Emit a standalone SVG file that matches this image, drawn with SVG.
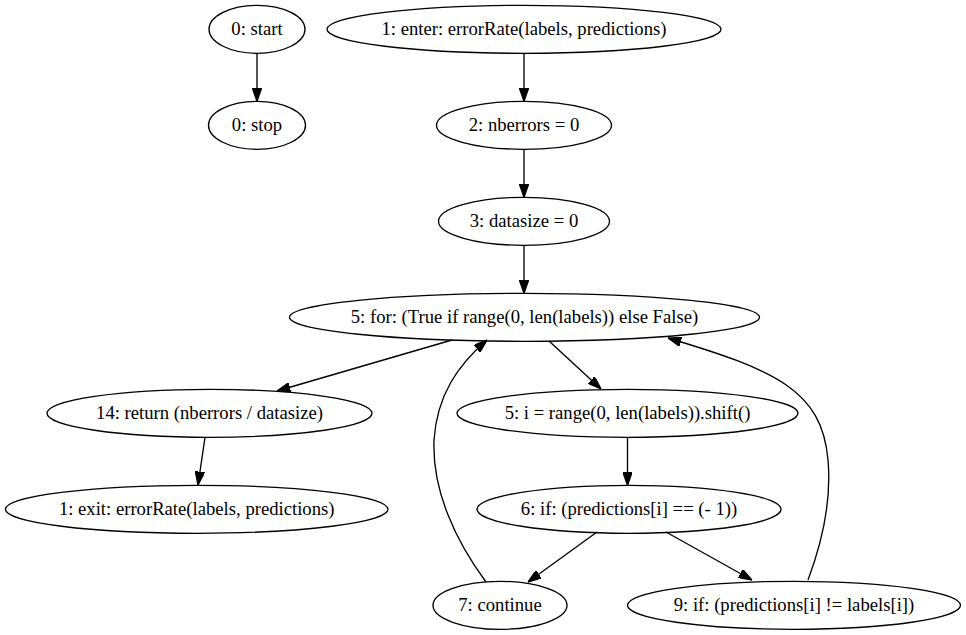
<svg xmlns="http://www.w3.org/2000/svg" width="966" height="635" viewBox="0 0 966 635">
<defs>
<style>
.n ellipse{fill:none;stroke:#000;stroke-width:1.33}
.n text{font-family:'Liberation Serif',serif;font-size:18.67px;text-anchor:middle;fill:#000}
.e path{fill:none;stroke:#000;stroke-width:1.33;marker-end:url(#ah)}
</style>
<marker id="ah" viewBox="0 0 10 7" refX="10" refY="3.5" markerWidth="13.33" markerHeight="9.33" markerUnits="userSpaceOnUse" orient="auto">
<path d="M0,0 L10,3.5 L0,7 z" fill="#000" stroke="#000" stroke-width="1"/>
</marker>
</defs>
<rect width="966" height="635" fill="#fff"/>
<g class="e" id="edges">
<path d="M257,53.3 L257,101.3"/>
<path d="M524,53.3 L524,101.3"/>
<path d="M524,149.3 L524,197.3"/>
<path d="M524,245.3 L524,293.3"/>
<path d="M452,340 L277,391"/>
<path d="M205,437.3 L198,485"/>
<path d="M549,341 L601,389"/>
<path d="M627.5,437.3 L627.5,485.3"/>
<path d="M597,532 L528,582"/>
<path d="M666,532 L752,580"/>
<path d="M486,582 C455,540 432,490 434,440 C437,395 458,365 487,340"/>
<path d="M808,580 C820,548 832,505 828,460 C822,390 775,370 668,338"/>
</g>
<g class="n" id="n0start"><ellipse cx="257" cy="29.3" rx="48" ry="24"/><text x="257" y="35.3" font-family="Liberation Serif, serif">0: start</text></g>
<g class="n" id="n0stop"><ellipse cx="257" cy="125.3" rx="48.5" ry="24"/><text x="257" y="131.3" font-family="Liberation Serif, serif">0: stop</text></g>
<g class="n" id="n1enter"><ellipse cx="524" cy="29.3" rx="197" ry="24"/><text x="524" y="35.3" font-family="Liberation Serif, serif">1: enter: errorRate(labels, predictions)</text></g>
<g class="n" id="n2"><ellipse cx="524" cy="125.3" rx="87.5" ry="24"/><text x="524" y="131.3" font-family="Liberation Serif, serif">2: nberrors = 0</text></g>
<g class="n" id="n3"><ellipse cx="524" cy="221.3" rx="85.5" ry="24"/><text x="524" y="227.3" font-family="Liberation Serif, serif">3: datasize = 0</text></g>
<g class="n" id="n5for"><ellipse cx="524.5" cy="317.3" rx="235" ry="24"/><text x="524.5" y="323.3" font-family="Liberation Serif, serif">5: for: (True if range(0, len(labels)) else False)</text></g>
<g class="n" id="n14"><ellipse cx="209.5" cy="413.3" rx="162.5" ry="24"/><text x="209.5" y="419.3" font-family="Liberation Serif, serif">14: return (nberrors / datasize)</text></g>
<g class="n" id="n1exit"><ellipse cx="196.7" cy="509.3" rx="191.3" ry="24"/><text x="196.7" y="515.3" font-family="Liberation Serif, serif">1: exit: errorRate(labels, predictions)</text></g>
<g class="n" id="n5i"><ellipse cx="627.5" cy="413.3" rx="170.5" ry="24"/><text x="627.5" y="419.3" font-family="Liberation Serif, serif">5: i = range(0, len(labels)).shift()</text></g>
<g class="n" id="n6"><ellipse cx="629" cy="509.3" rx="152" ry="24"/><text x="629" y="515.3" font-family="Liberation Serif, serif">6: if: (predictions[i] == (- 1))</text></g>
<g class="n" id="n7"><ellipse cx="500" cy="605.3" rx="67" ry="24"/><text x="500" y="611.3" font-family="Liberation Serif, serif">7: continue</text></g>
<g class="n" id="n9"><ellipse cx="794" cy="605.3" rx="166.5" ry="24"/><text x="794" y="611.3" font-family="Liberation Serif, serif">9: if: (predictions[i] != labels[i])</text></g>
</svg>
